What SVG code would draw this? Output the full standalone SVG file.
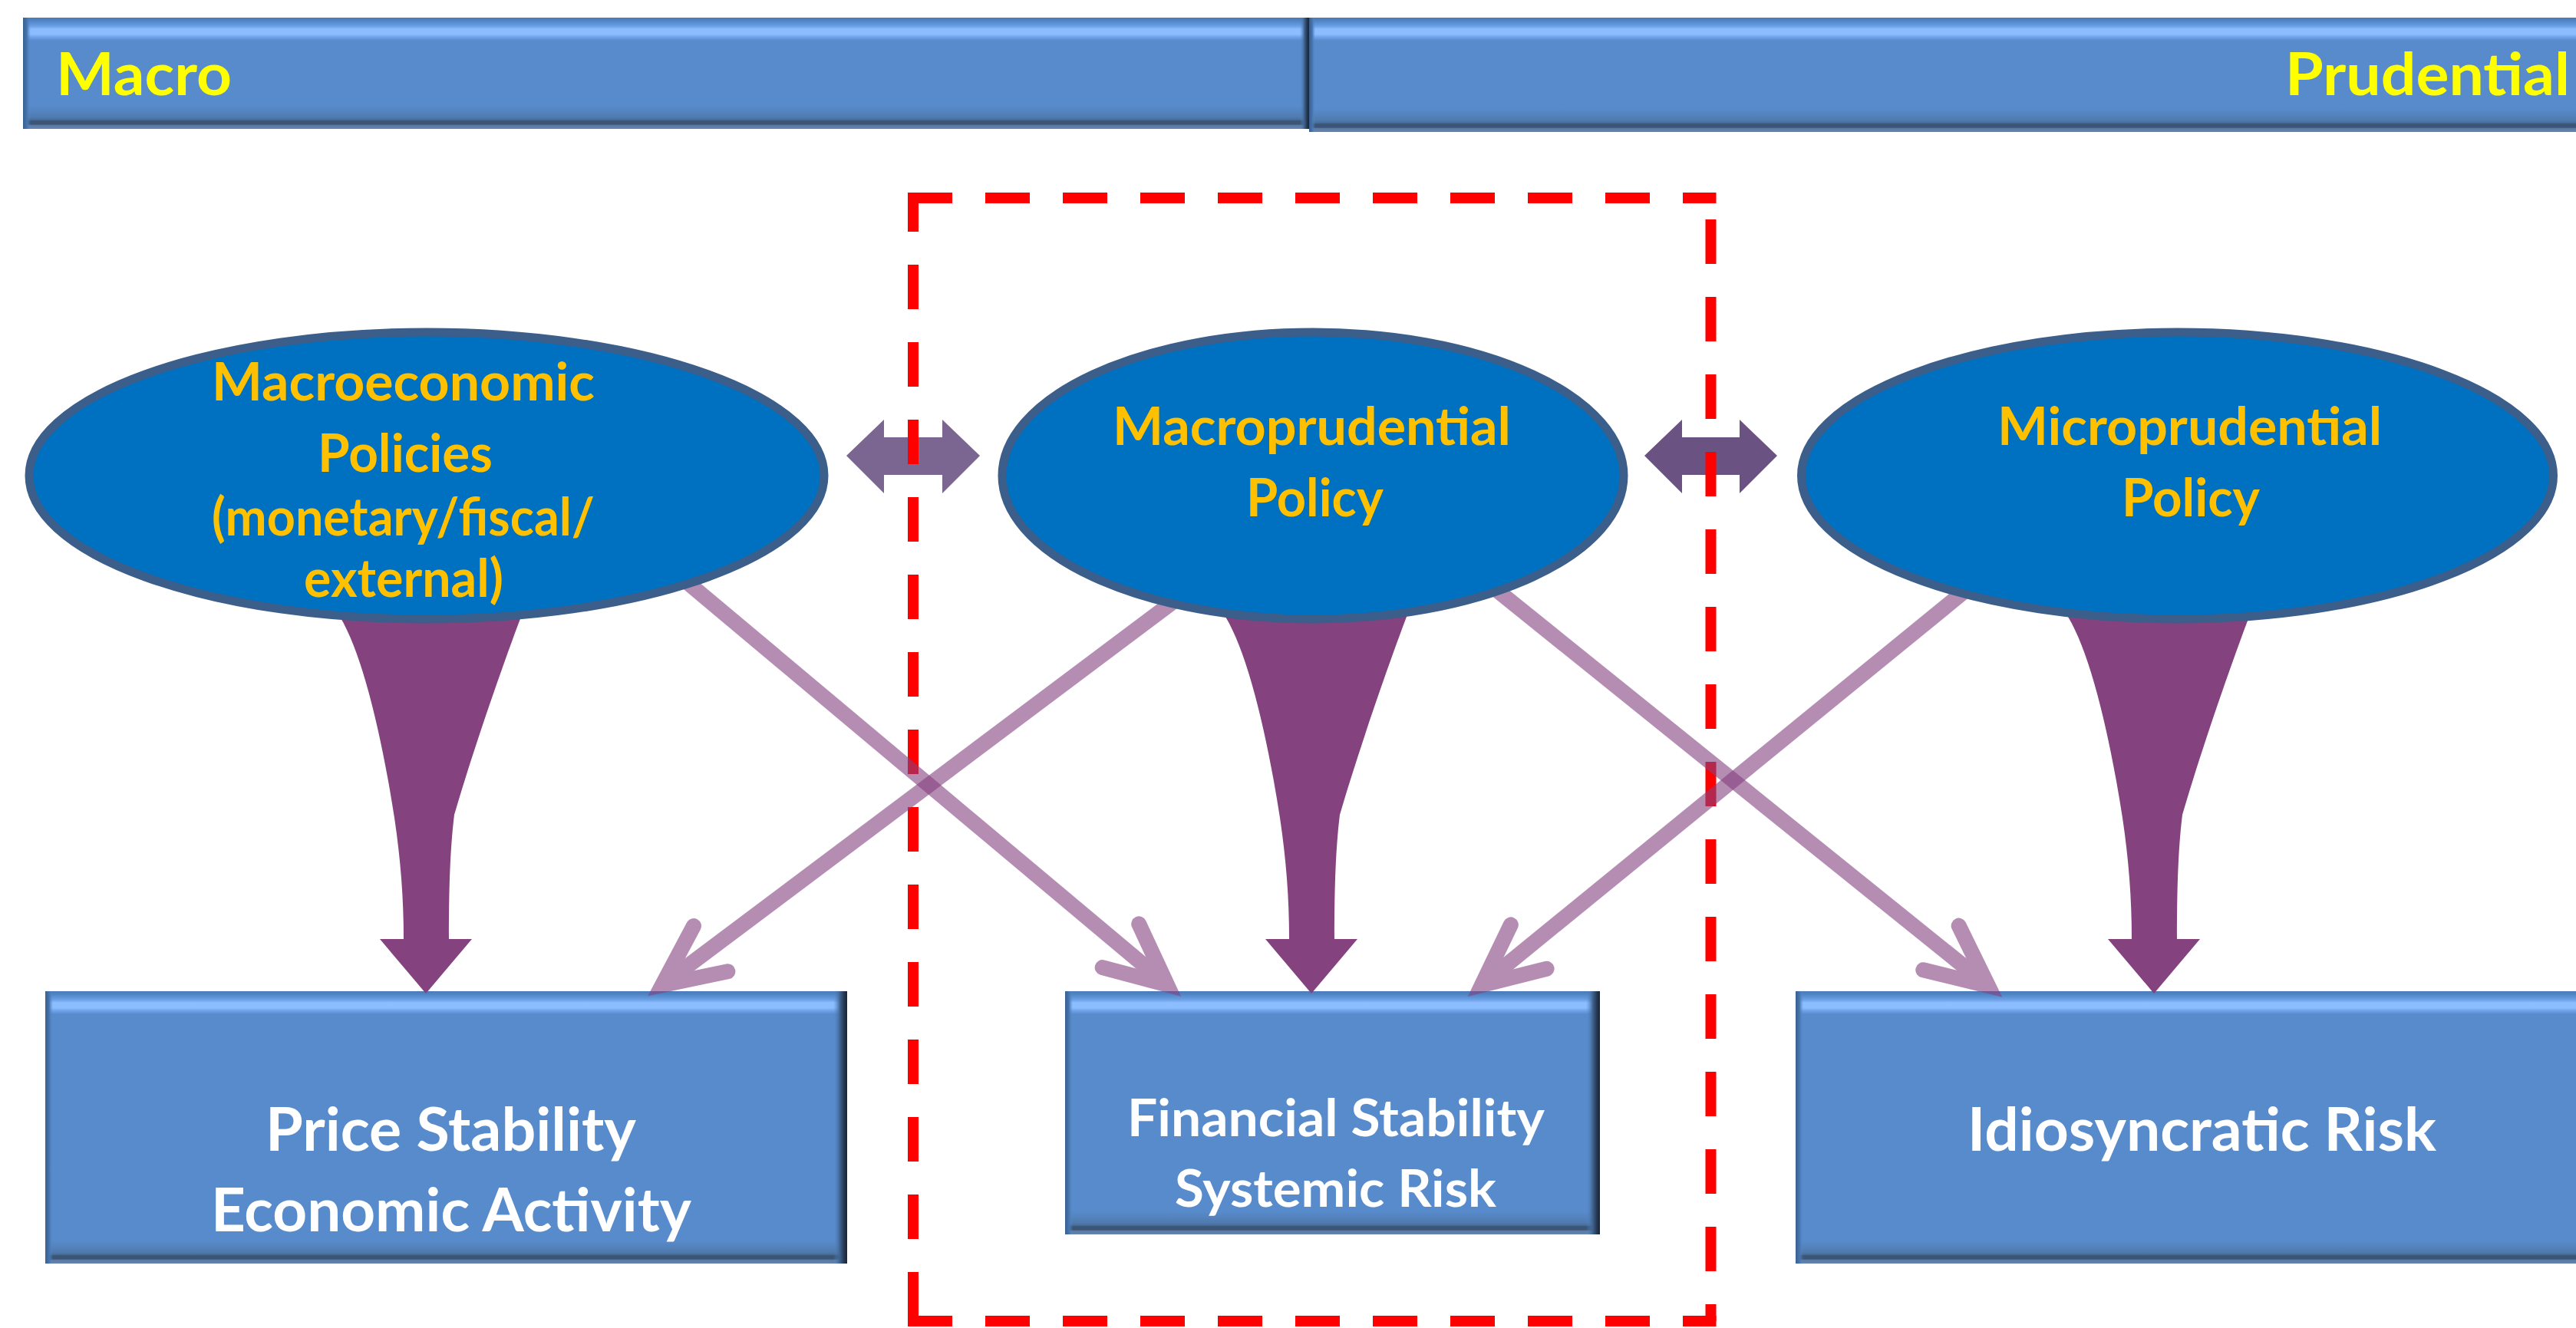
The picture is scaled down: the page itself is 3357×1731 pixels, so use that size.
<svg xmlns="http://www.w3.org/2000/svg" width="3357" height="1731" viewBox="0 0 3357 1731">
<style>
.base{fill:#588BCB}
.bt{fill:url(#gTop)}
.bb{fill:url(#gBot)}
.bl{fill:url(#gLeft)}
.br{fill:url(#gRight)}
.ell{fill:#0070C0;stroke:#3B5E8A;stroke-width:11}
.t{font-family:Lato,Carlito,"Liberation Sans",sans-serif;font-weight:700}
.hdr{fill:#FFFF00;font-size:77px}
.pol{fill:#FFC000;font-size:68px;text-anchor:middle}
.box{fill:#FFFFFF;font-size:78px;text-anchor:middle}
.boxs{fill:#FFFFFF;font-size:67px;text-anchor:middle}
.link{opacity:0.6}
.link path{fill:none;stroke:#854180;stroke-width:20;marker-end:url(#open)}
.funnel{fill:#84427F}
.frame{fill:none;stroke:#FF0000;stroke-width:14;stroke-dasharray:58 43}
</style>
<defs>
<linearGradient id="gTop" x1="0" y1="0" x2="0" y2="1">
<stop offset="0" stop-color="#4A7AB5"/>
<stop offset="0.12" stop-color="#4F83C2"/>
<stop offset="0.24" stop-color="#5A90D5"/>
<stop offset="0.37" stop-color="#6CA0E5"/>
<stop offset="0.5" stop-color="#8BBDFF"/>
<stop offset="0.72" stop-color="#8BBDFF"/>
<stop offset="0.85" stop-color="#6FA2EA"/>
<stop offset="1" stop-color="#588BCB"/>
</linearGradient>
<linearGradient id="gBot" x1="0" y1="0" x2="0" y2="1">
<stop offset="0" stop-color="#588BCB"/>
<stop offset="0.25" stop-color="#5483BE"/>
<stop offset="0.5" stop-color="#4F7AAE"/>
<stop offset="0.6" stop-color="#4A6E9A"/>
<stop offset="0.66" stop-color="#3A5575"/>
<stop offset="0.8" stop-color="#3A5575"/>
<stop offset="0.85" stop-color="#5A7AA5"/>
<stop offset="1" stop-color="#6585B0"/>
</linearGradient>
<linearGradient id="gLeft" x1="0" y1="0" x2="1" y2="0">
<stop offset="0" stop-color="#3A5F90"/>
<stop offset="0.5" stop-color="#4674AD"/>
<stop offset="1" stop-color="#588BCB" stop-opacity="0"/>
</linearGradient>
<linearGradient id="gRight" x1="0" y1="0" x2="1" y2="0">
<stop offset="0" stop-color="#588BCB" stop-opacity="0"/>
<stop offset="0.5" stop-color="#3D5F8A"/>
<stop offset="0.8" stop-color="#24354D"/>
<stop offset="1" stop-color="#1A2536"/>
</linearGradient>
<marker id="open" markerUnits="userSpaceOnUse" orient="auto" viewBox="-100 -50 110 100" refX="0" refY="0" markerWidth="110" markerHeight="100" overflow="visible">
<path d="M-79,-37 L0,0 L-79,37" fill="none" stroke="#854180" stroke-width="20" stroke-linecap="round" stroke-linejoin="miter" stroke-miterlimit="6"/>
</marker>
<path id="funnelShape" d="M1600,760 L1597,804 C1625,850 1650,950 1668,1066 C1676,1120 1680,1170 1680,1224 L1649,1224 L1709,1295 L1769,1224 L1739,1224 C1739,1170 1740,1110 1746,1062 C1770,980 1808,870 1833,804 L1830,760 Z"/>
</defs>
<rect width="3357" height="1731" fill="#FFFFFF"/>

<g id="header-macro">
<rect class="base" x="30" y="23" width="1676" height="145"/>
<rect class="bt" x="30" y="23" width="1676" height="30"/>
<rect class="bb" x="30" y="138" width="1676" height="30"/>
<rect class="bl" x="30" y="23" width="10" height="145"/>
<rect class="br" x="1694" y="23" width="12" height="145"/>
<text class="t hdr" x="73" y="124" textLength="229" lengthAdjust="spacingAndGlyphs">Macro</text>
</g>
<g id="header-prudential">
<rect class="base" x="1706" y="23" width="1700" height="149"/>
<rect class="bt" x="1706" y="23" width="1700" height="30"/>
<rect class="bb" x="1706" y="142" width="1700" height="30"/>
<rect class="bl" x="1706" y="23" width="8" height="149"/>
<text class="t hdr" x="2978" y="124" textLength="371" lengthAdjust="spacingAndGlyphs">Prudential</text>
</g>

<g id="box-price-stability">
<rect class="base" x="59" y="1292" width="1045" height="355"/>
<rect class="bt" x="59" y="1292" width="1045" height="30"/>
<rect class="bb" x="59" y="1617" width="1045" height="30"/>
<rect class="bl" x="59" y="1292" width="10" height="355"/>
<rect class="br" x="1086" y="1292" width="18" height="355"/>
<text class="t box" x="587.5" y="1500" textLength="483" lengthAdjust="spacingAndGlyphs">Price Stability</text>
<text class="t box" x="588" y="1605" textLength="626" lengthAdjust="spacingAndGlyphs">Economic Activity</text>
</g>
<g id="box-financial-stability">
<rect class="base" x="1388" y="1292" width="697" height="317"/>
<rect class="bt" x="1388" y="1292" width="697" height="30"/>
<rect class="bb" x="1388" y="1579" width="697" height="30"/>
<rect class="bl" x="1388" y="1292" width="10" height="317"/>
<rect class="br" x="2067" y="1292" width="18" height="317"/>
<text class="t boxs" x="1741" y="1481" textLength="544" lengthAdjust="spacingAndGlyphs">Financial  Stability</text>
<text class="t boxs" x="1740.5" y="1573" textLength="419" lengthAdjust="spacingAndGlyphs">Systemic Risk</text>
</g>
<g id="box-idiosyncratic-risk">
<rect class="base" x="2340" y="1292" width="1100" height="355"/>
<rect class="bt" x="2340" y="1292" width="1100" height="30"/>
<rect class="bb" x="2340" y="1617" width="1100" height="30"/>
<rect class="bl" x="2340" y="1292" width="10" height="355"/>
<text class="t box" x="2869.5" y="1500" textLength="611" lengthAdjust="spacingAndGlyphs">Idiosyncratic Risk</text>
</g>

<g id="connectors-bidirectional">
<polygon fill="#7A6690" points="1103,594 1152,547 1152,570 1228,570 1228,547 1277,594 1228,643 1228,619 1152,619 1152,643"/>
<polygon fill="#6A5382" points="2143,594 2192,547 2192,570 2267,570 2267,547 2316,594 2267,643 2267,619 2192,619 2192,643"/>
</g>

<g id="macroprudential-frame">
<path class="frame" d="M1190,258 V1722" stroke-dashoffset="14"/>
<path class="frame" d="M2229.5,258 V1722" stroke-dashoffset="73"/>
<path class="frame" d="M1183,258 H2236.5"/>
<path class="frame" d="M1183,1722 H2236.5"/>
</g>

<g id="connectors">
<g class="link"><path d="M861,730 L1521,1283.5"/></g>
<g class="link"><path d="M1588,740 L863,1284"/></g>
<g class="link"><path d="M1902,730 L2591,1285"/></g>
<g class="link"><path d="M2610,730 L1931,1284"/></g>
<use href="#funnelShape" class="funnel" transform="translate(-1154,0)"/>
<use href="#funnelShape" class="funnel"/>
<use href="#funnelShape" class="funnel" transform="translate(1098,0)"/>
</g>

<g id="node-macroeconomic">
<ellipse class="ell" cx="556" cy="620" rx="518" ry="187"/>
<text class="t pol" x="525.5" y="522" textLength="499" lengthAdjust="spacingAndGlyphs">Macroeconomic</text>
<text class="t pol" x="528" y="615" textLength="228" lengthAdjust="spacingAndGlyphs">Policies</text>
<text class="t pol" x="525.5" y="698" textLength="499" lengthAdjust="spacingAndGlyphs">(monetary/fiscal/</text>
<text class="t pol" x="526" y="778" textLength="260" lengthAdjust="spacingAndGlyphs">external)</text>
</g>
<g id="node-macroprudential">
<ellipse class="ell" cx="1711" cy="620" rx="405" ry="187"/>
<text class="t pol" x="1709.5" y="580" textLength="519" lengthAdjust="spacingAndGlyphs">Macroprudential</text>
<text class="t pol" x="1713.5" y="673" textLength="179" lengthAdjust="spacingAndGlyphs">Policy</text>
</g>
<g id="node-microprudential">
<ellipse class="ell" cx="2837.5" cy="620" rx="490" ry="187"/>
<text class="t pol" x="2853.5" y="580" textLength="501" lengthAdjust="spacingAndGlyphs">Microprudential</text>
<text class="t pol" x="2855" y="673" textLength="180" lengthAdjust="spacingAndGlyphs">Policy</text>
</g>
</svg>
